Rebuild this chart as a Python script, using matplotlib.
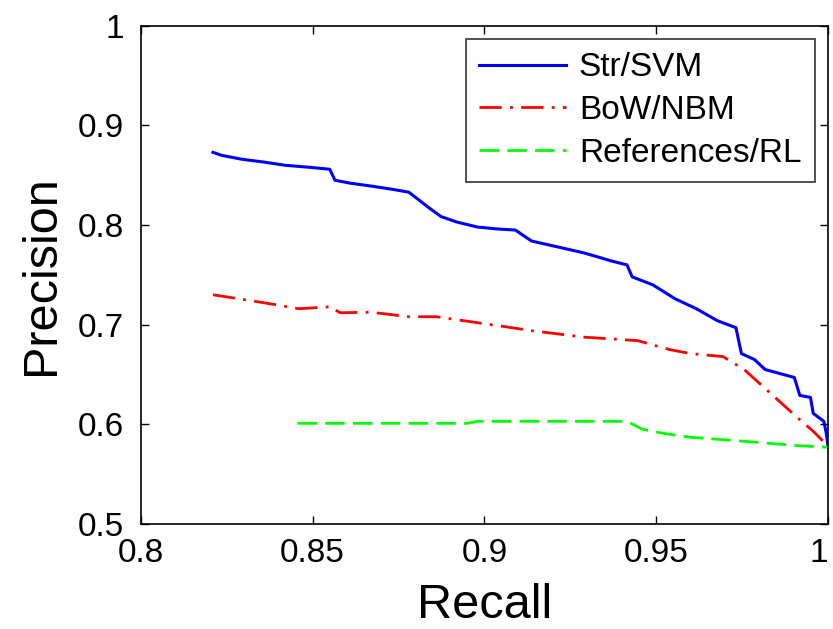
import matplotlib
matplotlib.use("Agg")
import matplotlib.pyplot as plt

# precision / recall curves
svm_recall = [0.821, 0.8235, 0.8295, 0.8363, 0.842, 0.849, 0.855, 0.8565, 0.861, 0.8673,
              0.873, 0.878, 0.881, 0.884, 0.8874, 0.892, 0.898, 0.904, 0.909, 0.9137,
              0.9214, 0.929, 0.934, 0.9369, 0.9415, 0.943, 0.949, 0.9555, 0.9617, 0.9678,
              0.9732, 0.9748, 0.9786, 0.9817, 0.9902, 0.9918, 0.9949, 0.9957, 0.9988,
              0.9995, 1.0]
svm_precision = [0.873, 0.870, 0.866, 0.863, 0.860, 0.858, 0.856, 0.845, 0.842, 0.839,
                 0.836, 0.833, 0.825, 0.817, 0.8085, 0.803, 0.798, 0.796, 0.795, 0.784,
                 0.778, 0.772, 0.767, 0.764, 0.760, 0.748, 0.740, 0.726, 0.716, 0.704,
                 0.697, 0.671, 0.665, 0.655, 0.647, 0.629, 0.627, 0.611, 0.603, 0.591,
                 0.578]

nbm_recall = [0.821, 0.8286, 0.8394, 0.846, 0.855, 0.858, 0.867, 0.878, 0.886, 0.898,
              0.906, 0.9137, 0.929, 0.9446, 0.9539, 0.960, 0.9694, 0.9756, 0.9833,
              0.991, 0.9957, 1.0]
nbm_precision = [0.730, 0.726, 0.720, 0.716, 0.718, 0.712, 0.7125, 0.708, 0.708, 0.702,
                 0.698, 0.694, 0.6875, 0.684, 0.675, 0.671, 0.668, 0.655, 0.631,
                 0.607, 0.593, 0.578]

rl_recall = [0.8456, 0.895, 0.898, 0.9415, 0.946, 0.952, 0.960, 0.9756, 0.991, 1.0]
rl_precision = [0.601, 0.601, 0.603, 0.603, 0.595, 0.591, 0.587, 0.583, 0.5786, 0.577]

labels = ["Str/SVM", "BoW/NBM", "References/RL"]

plt.rcParams["font.family"] = ["Liberation Sans", "DejaVu Sans"]

fig = plt.figure(figsize=(8.33, 6.29), dpi=100)
ax = fig.add_axes([0.169, 0.167, 0.825, 0.792])

ax.plot(svm_recall, svm_precision, color="#0000ff", lw=2.2, label=labels[0])
ax.plot(nbm_recall, nbm_precision, color="#ff0000", lw=2.0, dashes=(8, 3, 1, 3),
        label=labels[1])
ax.plot(rl_recall, rl_precision, color="#00ff00", lw=2.0, dashes=(7, 3),
        label=labels[2])

ax.set_xlim(0.8, 1.0)
ax.set_ylim(0.5, 1.0)
ax.set_xticks([0.8, 0.85, 0.9, 0.95, 1.0])
ax.set_xticklabels(["0.8", "0.85", "0.9", "0.95", "1"])
ax.set_yticks([0.5, 0.6, 0.7, 0.8, 0.9, 1.0])
ax.set_yticklabels(["0.5", "0.6", "0.7", "0.8", "0.9", "1"])
ax.tick_params(direction="in", length=6, width=1, labelsize=24,
               top=True, right=True)
ax.tick_params(axis="x", pad=10)
ax.tick_params(axis="y", pad=12)
# last label sits right on the figure edge, keep it inside
ax.get_xticklabels()[-1].set_horizontalalignment("right")
for s in ax.spines.values():
    s.set_linewidth(1.2)

ax.set_xlabel("Recall", fontsize=35, labelpad=10)
ax.set_ylabel("Precision", fontsize=35, labelpad=10)

leg = ax.legend(loc="upper right", fontsize=24, frameon=True, fancybox=False,
                edgecolor="black", handlelength=2.6, borderaxespad=0.4,
                labelspacing=0.35, borderpad=0.4, handletextpad=0.4)
leg.get_frame().set_linewidth(1.2)

fig.savefig("out.png", dpi=100)
